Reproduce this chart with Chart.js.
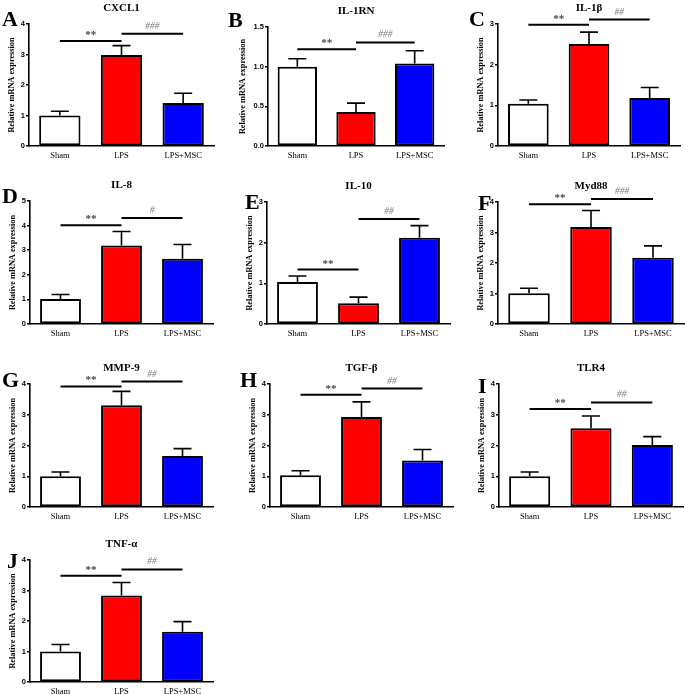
<!DOCTYPE html>
<html>
<head>
<meta charset="utf-8">
<script src="https://cdn.jsdelivr.net/npm/chart.js@4.4.0/dist/chart.umd.min.js"></script>
<style>
    html, body { margin: 0; padding: 0; background: #fff; }
    #wrap { position: relative; width: 685px; height: 695px; overflow: hidden; }
    #wrap canvas { position: absolute; }
</style>
</head>
<body>
<div id="wrap"></div>
<script>
// Chart data
const groups = ['Sham', 'LPS', 'LPS+MSC'];
const genes = ['CXCL1', 'IL-1RN', 'IL-1β', 'IL-8', 'IL-10', 'Myd88', 'MMP-9', 'TGF-β', 'TLR4', 'TNF-α'];
const letters = ['A', 'B', 'C', 'D', 'E', 'F', 'G', 'H', 'I', 'J'];

const shamMean = [1.00, 1.00, 1.04, 1.02, 1.03, 1.01, 1.00, 1.03, 1.00, 1.00];
const shamErr  = [0.14, 0.10, 0.09, 0.18, 0.15, 0.16, 0.14, 0.15, 0.14, 0.23];
const lpsMean  = [2.98, 0.43, 2.51, 3.19, 0.51, 3.18, 3.31, 2.93, 2.56, 2.84];
const lpsErr   = [0.31, 0.11, 0.29, 0.57, 0.15, 0.54, 0.45, 0.49, 0.40, 0.42];
const mscMean  = [1.41, 1.04, 1.18, 2.65, 2.12, 2.17, 1.66, 1.51, 2.02, 1.65];
const mscErr   = [0.32, 0.16, 0.26, 0.58, 0.30, 0.39, 0.24, 0.36, 0.27, 0.33];

// y axis range and tick step per panel
const yMax  = [4, 1.5, 3, 5, 3, 4, 4, 4, 4, 4];
const yStep = [1, 0.5, 1, 1, 1, 1, 1, 1, 1, 1];

// significance brackets: Sham vs LPS (**) and LPS vs LPS+MSC (#)
const sigLpsLevel = [3.44, 1.22, 2.98, 4.01, 1.34, 3.93, 3.92, 3.65, 3.19, 3.48];
const sigMscLevel = [3.68, 1.305, 3.11, 4.31, 2.58, 4.10, 4.08, 3.85, 3.40, 3.69];
const sigLpsLabel = ['**', '**', '**', '**', '**', '**', '**', '**', '**', '**'];
const sigMscLabel = ['###', '###', '##', '#', '##', '###', '##', '##', '##', '##'];

// Panel placement on the page (pixels)
const axisX   = [29, 268, 498, 30, 267, 498, 30, 270, 499, 30];
const topY    = [24, 27, 24, 201, 202, 202, 384, 384, 384, 560];
const bottomY = [146, 146, 146, 324, 324, 324, 507, 507, 507, 682];
const catW    = [61.5, 58.5, 60.7, 61, 61, 62, 61, 61, 61.2, 61];
const yAxisW  = [30, 38, 30, 30, 30, 30, 30, 30, 30, 30];
const letterX = [2, 228, 469, 2, 245, 478, 2, 240, 478, 7];
const letterY = [26, 27, 26, 203, 209, 210, 387, 387, 393, 568];

const LEFT = 42, TOP = 28, XAXIS_H = 22, RIGHT = 8;
const serif = '"Liberation Serif", "Times New Roman", serif';
const sans = '"Liberation Sans", Arial, sans-serif';

// Error bars, significance brackets, title and panel letter
const extras = {
    id: 'extras',
    afterDatasetsDraw(chart, args, opts) {
        const i = opts.panel;
        const ctx = chart.ctx;
        const bars = chart.getDatasetMeta(0).data;
        const y = chart.scales.y;
        const means = [shamMean[i], lpsMean[i], mscMean[i]];
        const errs = [shamErr[i], lpsErr[i], mscErr[i]];

        ctx.save();
        ctx.strokeStyle = '#000';
        ctx.lineWidth = 1.6;
        bars.forEach((bar, k) => {
            const yTop = y.getPixelForValue(means[k] + errs[k]);
            ctx.beginPath();
            ctx.moveTo(bar.x, bar.y);
            ctx.lineTo(bar.x, yTop);
            ctx.moveTo(bar.x - 9, yTop);
            ctx.lineTo(bar.x + 9, yTop);
            ctx.stroke();
        });

        // brackets
        const y1 = y.getPixelForValue(sigLpsLevel[i]);
        const y2 = y.getPixelForValue(sigMscLevel[i]);
        ctx.lineWidth = 2;
        ctx.beginPath();
        ctx.moveTo(bars[0].x, y1);
        ctx.lineTo(bars[1].x, y1);
        ctx.moveTo(bars[1].x, y2);
        ctx.lineTo(bars[2].x, y2);
        ctx.stroke();

        ctx.textAlign = 'center';
        ctx.textBaseline = 'alphabetic';
        ctx.font = 'bold 11px ' + serif;
        ctx.fillStyle = '#444';
        ctx.fillText(sigLpsLabel[i], (bars[0].x + bars[1].x) / 2, y1 - 3);
        ctx.fillStyle = '#777';
        ctx.font = 'italic 9.5px ' + serif;
        ctx.fillText(sigMscLabel[i], (bars[1].x + bars[2].x) / 2, y2 - 5);

        // title
        const area = chart.chartArea;
        ctx.fillStyle = '#000';
        ctx.font = 'bold 11px ' + serif;
        ctx.fillText(genes[i], (area.left + area.right) / 2, area.top - 13);

        // panel letter
        ctx.textAlign = 'left';
        ctx.font = 'bold 22px ' + serif;
        ctx.fillText(letters[i], letterX[i] - (axisX[i] - LEFT), letterY[i] - (topY[i] - TOP));
        ctx.restore();
    }
};

const wrap = document.getElementById('wrap');

genes.forEach((gene, i) => {
    const canvas = document.createElement('canvas');
    const w = LEFT + 3 * catW[i] + RIGHT;
    const h = TOP + (bottomY[i] - topY[i]) + XAXIS_H;
    canvas.width = Math.round(w);
    canvas.height = Math.round(h);
    canvas.style.left = (axisX[i] - LEFT) + 'px';
    canvas.style.top = (topY[i] - TOP) + 'px';
    canvas.style.width = Math.round(w) + 'px';
    canvas.style.height = Math.round(h) + 'px';
    wrap.appendChild(canvas);

    new Chart(canvas.getContext('2d'), {
        type: 'bar',
        data: {
            labels: groups,
            datasets: [{
                data: [shamMean[i], lpsMean[i], mscMean[i]],
                backgroundColor: ['#ffffff', '#ff0000', '#0000ff'],
                borderColor: '#000',
                borderWidth: 2,
                borderSkipped: false,
                barPercentage: 0.67,
                categoryPercentage: 1
            }]
        },
        options: {
            responsive: false,
            animation: false,
            devicePixelRatio: 1,
            layout: {
                padding: { top: TOP, left: LEFT - yAxisW[i], right: RIGHT, bottom: 0 }
            },
            plugins: {
                legend: { display: false },
                tooltip: { enabled: false },
                extras: { panel: i }
            },
            scales: {
                x: {
                    offset: true,
                    grid: { display: false, drawTicks: false },
                    border: { display: true, color: '#000', width: 1.6 },
                    ticks: {
                        color: '#000',
                        padding: 5,
                        maxRotation: 0,
                        autoSkip: false,
                        font: { family: serif, size: 8.5 }
                    },
                    afterFit: (scale) => { scale.height = XAXIS_H; }
                },
                y: {
                    min: 0,
                    max: yMax[i],
                    grid: {
                        display: true,
                        drawOnChartArea: false,
                        drawTicks: true,
                        tickLength: 3,
                        color: '#000',
                        lineWidth: 1.5
                    },
                    border: { display: true, color: '#000', width: 1.6 },
                    ticks: {
                        stepSize: yStep[i],
                        color: '#000',
                        padding: 1,
                        font: { family: sans, size: 7.5, weight: 'bold' },
                        callback: (v) => yStep[i] < 1 ? v.toFixed(1) : v
                    },
                    title: {
                        display: true,
                        text: 'Relative mRNA expression',
                        color: '#000',
                        padding: { top: 7.5, bottom: 0 },
                        font: { family: serif, size: 8.3, weight: 'bold' }
                    },
                    afterFit: (scale) => { scale.width = yAxisW[i]; }
                }
            }
        },
        plugins: [extras]
    });
});
</script>
</body>
</html>
